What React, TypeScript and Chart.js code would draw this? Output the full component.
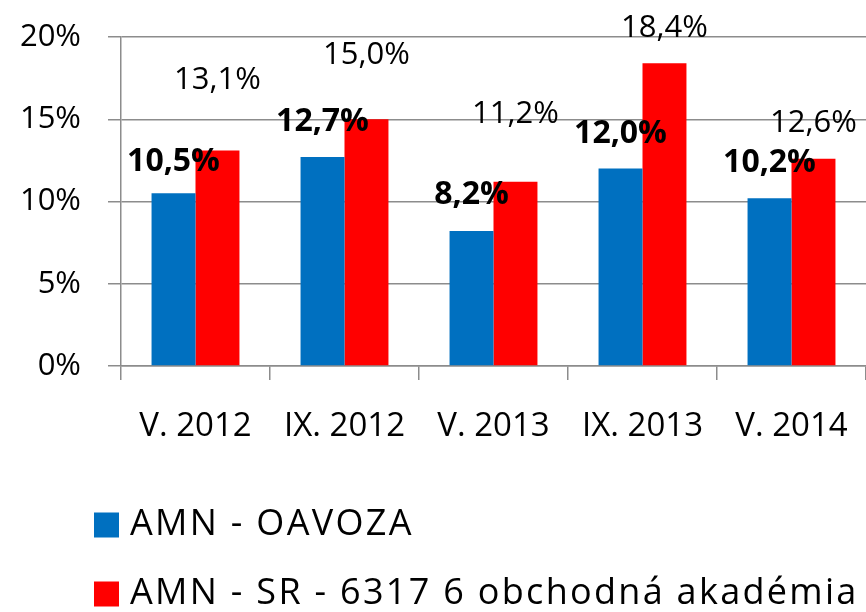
import React, { useEffect, useRef } from 'react';
import { Chart, registerables } from 'chart.js';

Chart.register(...registerables);

const categories = ['V. 2012', 'IX. 2012', 'V. 2013', 'IX. 2013', 'V. 2014'];
const seriesNames = ['AMN - OAVOZA', 'AMN - SR - 6317 6 obchodná akadémia'];
const oavozaValues = [10.5, 12.7, 8.2, 12.0, 10.2];
const srValues = [13.1, 15.0, 11.2, 18.4, 12.6];
const yTickValues = [0, 5, 10, 15, 20];

// label lift above bar top (px), hand-placed in the original
const blueLabelLift = [31, 35, 36, 35, 35];
const redLabelLift = [70, 64, 68, 35, 36];

const FONT = '"Open Sans", sans-serif';
const BLUE = '#0070C0';
const RED = '#FF0000';
const GRID = '#8c8c8c';

const fmt = (v: number) => v.toFixed(1).replace('.', ',') + '%';

const valueLabels = {
  id: 'valueLabels',
  afterDatasetsDraw(chart: any) {
    const ctx = chart.ctx;
    chart.data.datasets.forEach((ds: any, di: number) => {
      const meta = chart.getDatasetMeta(di);
      meta.data.forEach((bar: any, i: number) => {
        const lift = di === 0 ? blueLabelLift[i] : redLabelLift[i];
        ctx.save();
        ctx.font = di === 0 ? 'bold 32px ' + FONT : '31px ' + FONT;
        ctx.fillStyle = '#000';
        ctx.textAlign = 'center';
        ctx.textBaseline = 'middle';
        ctx.fillText(fmt(ds.data[i]), bar.x, bar.y - lift);
        ctx.restore();
      });
    });
  },
};

const customLegend = {
  id: 'customLegend',
  afterDraw(chart: any) {
    const ctx = chart.ctx;
    const rowsY = [525, 594];
    chart.data.datasets.forEach((ds: any, di: number) => {
      const y = rowsY[di];
      ctx.save();
      ctx.fillStyle = ds.backgroundColor;
      ctx.fillRect(94, y - 12.5, 25, 25);
      ctx.font = '36px ' + FONT;
      (ctx as any).letterSpacing = '2.3px';
      ctx.fillStyle = '#000';
      ctx.textAlign = 'left';
      ctx.textBaseline = 'middle';
      ctx.fillText(ds.label, 130, y);
      ctx.restore();
    });
  },
};

const zeroPad = (s: any) => {
  s.paddingTop = 0;
  s.paddingBottom = 0;
  s.paddingLeft = 0;
  s.paddingRight = 0;
};

export default function App() {
  const ref = useRef<HTMLCanvasElement | null>(null);
  useEffect(() => {
    if (!ref.current) return;
    const chart = new Chart(ref.current, {
      type: 'bar',
      data: {
        labels: categories,
        datasets: [
          { label: seriesNames[0], data: oavozaValues, backgroundColor: BLUE, categoryPercentage: 0.59, barPercentage: 1.0 },
          { label: seriesNames[1], data: srValues, backgroundColor: RED, categoryPercentage: 0.59, barPercentage: 1.0 },
        ],
      },
      options: {
        animation: false,
        responsive: false,
        layout: { padding: { top: 37, left: 0, right: 0, bottom: 0 } },
        plugins: { legend: { display: false }, tooltip: { enabled: false } },
        scales: {
          x: {
            grid: { display: true, drawOnChartArea: false, drawTicks: true, tickLength: 14, color: GRID, lineWidth: 1.5, offset: true },
            border: { display: true, color: GRID, width: 1.5 },
            ticks: { color: '#000', font: { family: FONT, size: 33 }, padding: 27, maxRotation: 0, autoSkip: false },
            afterFit: (s: any) => { s.height = 246; zeroPad(s); },
          },
          y: {
            min: 0,
            max: 20,
            afterBuildTicks: (s: any) => { s.ticks = yTickValues.map((v) => ({ value: v })); },
            grid: { color: GRID, lineWidth: 1.5, tickLength: 13, drawTicks: true },
            border: { display: true, color: GRID, width: 1.5 },
            ticks: { color: '#000', font: { family: FONT, size: 31 }, padding: 27, callback: (v: any) => v + '%' },
            afterFit: (s: any) => { s.width = 121; zeroPad(s); },
          },
        },
      },
      plugins: [valueLabels, customLegend],
    });
    return () => chart.destroy();
  }, []);
  return (
    <div style={{ position: 'fixed', left: 0, top: 0, width: 866, height: 612, background: '#fff' }}>
      <canvas ref={ref} width={866} height={612} />
    </div>
  );
}
